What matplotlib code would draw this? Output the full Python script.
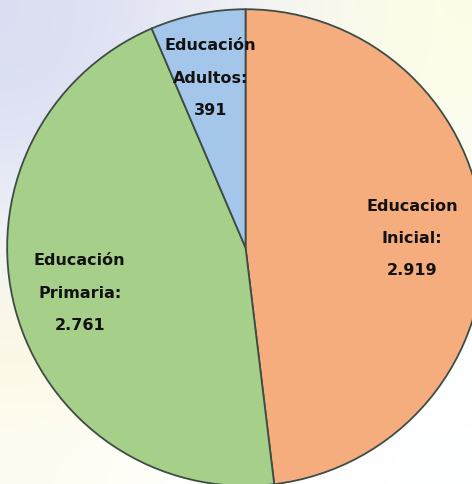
import numpy as np
import matplotlib
matplotlib.use("Agg")
import matplotlib.pyplot as plt
from matplotlib import font_manager

categories = ["Educacion\nInicial:", "Educación\nPrimaria:", "Educación\nAdultos:"]
values = [2919, 2761, 391]
value_labels = ["2.919", "2.761", "391"]
colors = ["#F5AD7E", "#A6CF8A", "#A4C6EA"]

avail = {f.name for f in font_manager.fontManager.ttflist}
fam = [f for f in ["Liberation Sans Narrow", "DejaVu Sans"] if f in avail]

fig = plt.figure(figsize=(4.72, 4.85), dpi=100)

# faint decorative background
bg = fig.add_axes([0, 0, 1, 1])
bg.set_axis_off()
grid = np.array([
    [[0.86, 0.87, 0.95], [0.90, 0.91, 0.96], [0.97, 0.97, 0.95], [0.99, 0.99, 0.90]],
    [[0.87, 0.89, 0.96], [0.93, 0.94, 0.97], [0.99, 0.99, 0.97], [0.99, 0.99, 0.95]],
    [[0.95, 0.96, 0.97], [0.98, 0.98, 0.97], [1.00, 1.00, 0.99], [0.99, 0.99, 0.97]],
    [[0.99, 0.97, 0.88], [0.99, 0.98, 0.93], [1.00, 1.00, 1.00], [0.99, 1.00, 1.00]],
    [[1.00, 0.99, 0.95], [1.00, 1.00, 0.99], [1.00, 1.00, 1.00], [1.00, 1.00, 1.00]],
])
bg.imshow(grid, aspect="auto", interpolation="bicubic", extent=[0, 1, 0, 1])
bg.set_xlim(0, 1)
bg.set_ylim(0, 1)

ax = fig.add_axes([0, 0, 1, 1])
ax.set_axis_off()
ax.patch.set_alpha(0)
wedges, _ = ax.pie(values, colors=colors, startangle=90, counterclock=False,
                   radius=1.0, wedgeprops=dict(edgecolor="#3d4d45", linewidth=1.3))
ax.set_xlim(-1.030, 0.950)
ax.set_ylim(-0.992, 1.043)
ax.set_aspect("auto")

dists = [0.70, 0.72, 0.73]
for w, cat, vl, d in zip(wedges, categories, value_labels, dists):
    ang = np.deg2rad((w.theta1 + w.theta2) / 2)
    ax.text(d * np.cos(ang), d * np.sin(ang), cat + "\n" + vl, ha="center", va="center",
            fontsize=11.5, fontweight="bold", family=fam, color="#121212",
            linespacing=2.45)

fig.savefig("out.png", dpi=100)
